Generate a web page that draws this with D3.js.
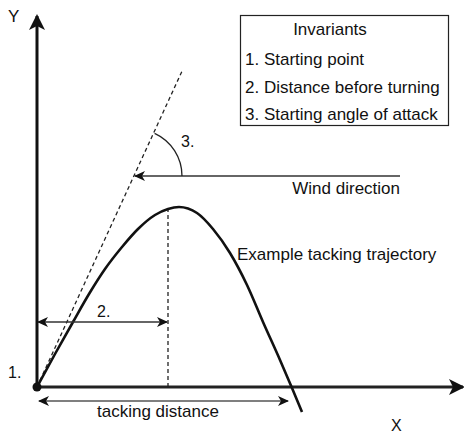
<!DOCTYPE html>
<html>
<head>
<meta charset="utf-8">
<script src="https://cdn.jsdelivr.net/npm/d3@7"></script>
<style>
  body { margin: 0; background: #fff; }
  text { font-family: "Liberation Sans", Arial, Helvetica, sans-serif; fill: #111; }
</style>
</head>
<body>
<script>
// trajectory points, in units measured from the start point
const trajX = [0, 18, 36, 52, 68, 85, 101, 118, 131, 142, 160, 176, 193, 210, 226, 243, 255, 265];
const trajY = [0, 33, 65, 93, 118, 140, 158, 172, 178, 180, 174, 158, 134, 102, 65, 27, -1, -25];

// starting heading (dashed line) end point
const headingEnd = [146, 318];
// wind line: from right end to arrow tip on the heading line
const windX = [363, 98];
const windY = 211;
const turnX = 131;      // distance before turning
const turnTopY = 178;   // where the dotted line meets the curve
const markY = 65;       // height of the "2." arrow
const tackY = -14;      // height of the tacking distance arrow
const tackX = [2, 251];

const legendTitle = "Invariants";
const legendItems = ["1. Starting point", "2. Distance before turning", "3. Starting angle of attack"];

const W = 464, H = 434;
const ox = 37, oy = 387;

const svg = d3.select("body").append("svg")
  .attr("width", W)
  .attr("height", H);

const x = d3.scaleLinear().domain([0, 428]).range([ox, ox + 428]);
const y = d3.scaleLinear().domain([0, 372]).range([oy, oy - 372]);

const defs = svg.append("defs");
defs.append("marker")
  .attr("id", "big")
  .attr("viewBox", "0 -8 16 16")
  .attr("refX", 14).attr("refY", 0)
  .attr("markerUnits", "userSpaceOnUse")
  .attr("markerWidth", 16).attr("markerHeight", 16)
  .attr("orient", "auto")
  .append("path")
  .attr("d", "M0,-8 L16,0 L0,8 L4,0 Z")
  .attr("fill", "#111");
defs.append("marker")
  .attr("id", "small")
  .attr("viewBox", "0 -5 11 10")
  .attr("refX", 10).attr("refY", 0)
  .attr("markerUnits", "userSpaceOnUse")
  .attr("markerWidth", 11).attr("markerHeight", 10)
  .attr("orient", "auto-start-reverse")
  .append("path")
  .attr("d", "M0,-5 L11,0 L0,5 L3,0 Z")
  .attr("fill", "#111");

// axes
svg.append("line")
  .attr("x1", x(0)).attr("y1", y(0))
  .attr("x2", x(0)).attr("y2", y(371))
  .attr("stroke", "#111").attr("stroke-width", 3)
  .attr("marker-end", "url(#big)");
svg.append("line")
  .attr("x1", x(0)).attr("y1", y(0))
  .attr("x2", x(426)).attr("y2", y(0))
  .attr("stroke", "#222").attr("stroke-width", 3)
  .attr("marker-end", "url(#big)");

// starting heading
svg.append("line")
  .attr("x1", x(0)).attr("y1", y(0))
  .attr("x2", x(headingEnd[0])).attr("y2", y(headingEnd[1]))
  .attr("stroke", "#222").attr("stroke-width", 1.3)
  .attr("stroke-dasharray", "4,3");

// turning point dotted line
svg.append("line")
  .attr("x1", x(turnX)).attr("y1", y(0))
  .attr("x2", x(turnX)).attr("y2", y(turnTopY))
  .attr("stroke", "#222").attr("stroke-width", 1.3)
  .attr("stroke-dasharray", "4,3");

// trajectory
const pts = trajX.map((d, i) => [d, trajY[i]]);
svg.append("path")
  .datum(pts)
  .attr("fill", "none")
  .attr("stroke", "#111")
  .attr("stroke-width", 2.6)
  .attr("d", d3.line().x(d => x(d[0])).y(d => y(d[1])).curve(d3.curveMonotoneX));

// wind direction
svg.append("line")
  .attr("x1", x(windX[0])).attr("y1", y(windY))
  .attr("x2", x(windX[1])).attr("y2", y(windY))
  .attr("stroke", "#333").attr("stroke-width", 1.5)
  .attr("marker-end", "url(#small)");

// angle arc
const ang = Math.atan2(headingEnd[1], headingEnd[0]);
const r = 47;
const cx = x(windX[1]), cy = y(windY);
svg.append("path")
  .attr("d", `M${cx + r * Math.cos(ang)},${cy - r * Math.sin(ang)} A${r},${r} 0 0 1 ${cx + r},${cy}`)
  .attr("fill", "none")
  .attr("stroke", "#222")
  .attr("stroke-width", 1.3);

// "2." arrow
svg.append("line")
  .attr("x1", x(0) + 1).attr("y1", y(markY))
  .attr("x2", x(turnX) - 1).attr("y2", y(markY))
  .attr("stroke", "#333").attr("stroke-width", 1.5)
  .attr("marker-start", "url(#small)")
  .attr("marker-end", "url(#small)");

// tacking distance arrow
svg.append("line")
  .attr("x1", x(tackX[0])).attr("y1", y(tackY))
  .attr("x2", x(tackX[1])).attr("y2", y(tackY))
  .attr("stroke", "#555").attr("stroke-width", 1.5)
  .attr("marker-start", "url(#small)")
  .attr("marker-end", "url(#small)");

// origin dot
svg.append("circle")
  .attr("cx", x(0)).attr("cy", y(0)).attr("r", 4.5)
  .attr("fill", "#111");

// labels
function label(tx, ty, s, size, anchor) {
  svg.append("text")
    .attr("x", tx).attr("y", ty)
    .attr("font-size", size + "px")
    .attr("text-anchor", anchor || "start")
    .text(s);
}
label(8, 22, "Y", 17);
label(391, 431, "X", 16);
label(8, 378, "1.", 16);
label(97, 317, "2.", 16);
label(181, 147, "3.", 16);
label(400, 194, "Wind direction", 17, "end");
label(237, 260, "Example tacking trajectory", 17);
label(97, 417, "tacking distance", 17);

// legend box
svg.append("rect")
  .attr("x", 240.5).attr("y", 15.5)
  .attr("width", 208).attr("height", 110)
  .attr("fill", "none")
  .attr("stroke", "#222").attr("stroke-width", 1.2);
label(330, 35, legendTitle, 17, "middle");
svg.selectAll(".legitem")
  .data(legendItems)
  .enter()
  .append("text")
  .attr("class", "legitem")
  .attr("x", 245)
  .attr("y", (d, i) => 65 + i * 27.5)
  .attr("font-size", "17px")
  .text(d => d);
</script>
</body>
</html>
